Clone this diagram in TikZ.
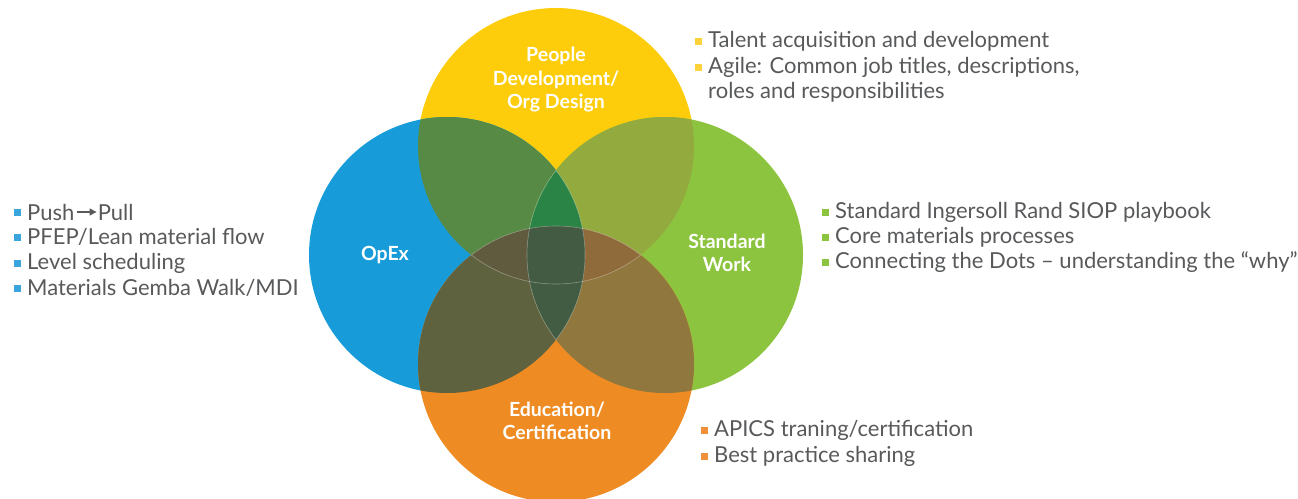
\documentclass[tikz,border=0pt]{standalone}
\usepackage{fontspec}
\setmainfont{Lato}
\usetikzlibrary{arrows.meta}
\definecolor{cY}{HTML}{FDCD0B}
\definecolor{cB}{HTML}{189CD9}
\definecolor{cG}{HTML}{8DC43F}
\definecolor{cO}{HTML}{EF8B23}
\definecolor{cTL}{HTML}{578A45}
\definecolor{cTR}{HTML}{93AB3E}
\definecolor{cBL}{HTML}{5F623F}
\definecolor{cBR}{HTML}{8F773D}
\definecolor{cTLR}{HTML}{2A8446}
\definecolor{cTLB}{HTML}{605A3F}
\definecolor{cTRB}{HTML}{8F6A3B}
\definecolor{cLRB}{HTML}{415C42}
\definecolor{cAll}{HTML}{425B42}
\definecolor{txt}{HTML}{58595B}
\definecolor{bY}{HTML}{FDD23A}
\definecolor{bB}{HTML}{3AA5DC}
\definecolor{bG}{HTML}{8DC43F}
\definecolor{bO}{HTML}{F0913A}
\tikzset{
  title/.style={text=white, font=\fontsize{19.5}{23.5}\selectfont\bfseries, align=center, inner sep=0pt},
  item/.style={text=txt, font=\fontsize{22}{25}\selectfont, anchor=west, inner sep=0pt},
  bul/.style={label={[fill=#1, minimum size=7pt, inner sep=0pt, label distance=6pt]left:{}}},
  faint/.style={draw=white, draw opacity=0.35, line width=0.6pt}
}
\begin{document}
\begin{tikzpicture}[x=1pt,y=-1pt]
\useasboundingbox (0,0) rectangle (1298,498);
\clip (0,0) rectangle (1298,498);
\def\R{138}
\coordinate (T) at (556,146);
\coordinate (L) at (447,255);
\coordinate (Rc) at (665,255);
\coordinate (B) at (556,364);
% single circles
\fill[cY] (T) circle (\R);
\fill[cB] (L) circle (\R);
\fill[cG] (Rc) circle (\R);
\fill[cO] (B) circle (\R);
% pairs
\begin{scope}\clip (T) circle (\R); \fill[cTL] (L) circle (\R); \fill[cTR] (Rc) circle (\R);\end{scope}
\begin{scope}\clip (B) circle (\R); \fill[cBL] (L) circle (\R); \fill[cBR] (Rc) circle (\R);\end{scope}
% triples
\begin{scope}\clip (T) circle (\R); \clip (L) circle (\R); \fill[cTLR] (Rc) circle (\R); \fill[cTLB] (B) circle (\R);\end{scope}
\begin{scope}\clip (T) circle (\R); \clip (Rc) circle (\R); \fill[cTRB] (B) circle (\R);\end{scope}
\begin{scope}\clip (L) circle (\R); \clip (Rc) circle (\R); \fill[cLRB] (B) circle (\R);\end{scope}
% all four
\begin{scope}\clip (T) circle (\R); \clip (L) circle (\R); \clip (Rc) circle (\R); \fill[cAll] (B) circle (\R);\end{scope}
% faint lens outlines
\begin{scope}\clip (B) circle (\R); \draw[faint] (T) circle (\R);\end{scope}
\begin{scope}\clip (T) circle (\R); \draw[faint] (B) circle (\R);\end{scope}
\begin{scope}\clip (L) circle (\R); \draw[faint] (Rc) circle (\R);\end{scope}
\begin{scope}\clip (Rc) circle (\R); \draw[faint] (L) circle (\R);\end{scope}
% titles
\node[title] (tP) at (556,80) {People\\Development/\\Org Design};
\node[title] (tO) at (385,255) {OpEx};
\node[title] (tS) at (727,253) {Standard\\Work};
\node[title] (tE) at (557,421) {Education/\\Certification};
% top right
\node[item, bul=bY] (y1) at (708,41) {Talent acquisition and development};
\node[item, bul=bY] (y2) at (708,67) {Agile: Common job titles, descriptions,};
\node[item] (y3) at (708,92) {roles and responsibilities};
% left
\node[item, bul=bB] (b1) at (27,212) {Push};
\node[item] (b1b) at ([xshift=23pt]b1.east) {Pull};
\draw[txt, line width=1.4pt, -{Triangle[length=7pt,width=7pt]}] ([xshift=2pt]b1.east) -- ([xshift=-1pt]b1b.west);
\node[item, bul=bB] (b2) at (27,237) {PFEP/Lean material flow};
\node[item, bul=bB] (b3) at (27,263) {Level scheduling};
\node[item, bul=bB] (b4) at (27,288) {Materials Gemba Walk/MDI};
% right
\node[item, bul=bG] (g1) at (835,212) {Standard Ingersoll Rand SIOP playbook};
\node[item, bul=bG] (g2) at (835,237) {Core materials processes};
\node[item, bul=bG] (g3) at (835,262) {Connecting the Dots – understanding the “why”};
% bottom right
\node[item, bul=bO] (o1) at (714,430) {APICS traning/certification};
\node[item, bul=bO] (o2) at (714,456) {Best practice sharing};
\end{tikzpicture}
\end{document}
